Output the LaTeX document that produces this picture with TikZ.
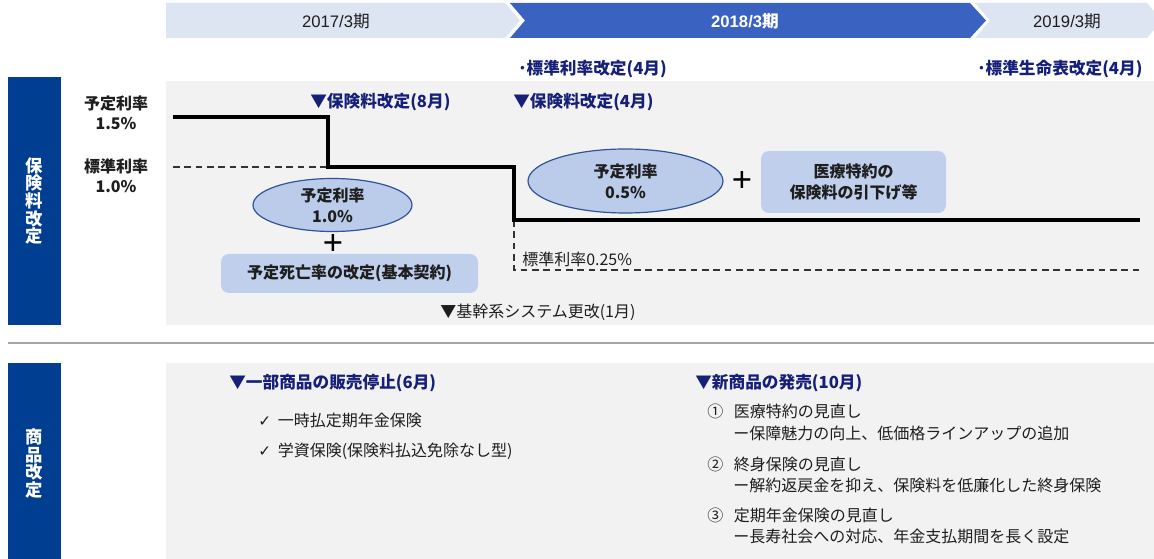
\documentclass[tikz,border=0pt]{standalone}
\usepackage{fontspec}
\setmainfont{Noto Sans CJK JP}
\newfontfamily\djv{DejaVu Sans}
\newfontfamily\arl{Liberation Sans}
\usetikzlibrary{shapes.geometric}
\definecolor{navybar}{RGB}{0,62,146}
\definecolor{bannerblue}{RGB}{58,98,192}
\definecolor{bannerlight}{RGB}{221,228,242}
\definecolor{panelgray}{RGB}{242,242,242}
\definecolor{ellfill}{RGB}{187,203,234}
\definecolor{ellborder}{RGB}{47,85,151}
\definecolor{rectfill}{RGB}{191,207,236}
\definecolor{navytext}{RGB}{22,32,120}
\definecolor{txt}{RGB}{30,30,30}
\tikzset{
  bannertxt/.style={font=\fontsize{12.5}{15}\selectfont, text=txt},
  navyhead/.style={font=\fontsize{12.5}{15}\selectfont\bfseries, text=navytext, anchor=west, inner sep=0pt},
  plain/.style={font=\fontsize{12}{15}\selectfont, text=txt, anchor=west, inner sep=0pt},
  sidebar/.style={fill=navybar, draw=none},
  sidetxt/.style={font=\fontsize{13}{13.2}\selectfont\bfseries, text=white, align=center, inner sep=0pt},
  ratelbl/.style={font=\fontsize{12}{15}\selectfont\bfseries, text=txt, align=center, inner sep=0pt},
  bubble/.style={ellipse, fill=ellfill, draw=ellborder, line width=0.9pt, font=\fontsize{12}{15.5}\selectfont\bfseries, text=txt, align=center, inner sep=0pt},
  pill/.style={rounded corners=6pt, fill=rectfill, draw=none, font=\fontsize{12}{16}\selectfont\bfseries, text=txt, align=center, inner sep=0pt},
  stair/.style={line width=3.2pt, black},
  dashln/.style={dash pattern=on 5pt off 3.5pt, line width=0.9pt, black!80},
  plus/.style={font=\fontsize{26}{26}\selectfont\arl, text=black, inner sep=0pt}
}
\begin{document}
\begin{tikzpicture}[x=0.75pt,y=-0.75pt]
\useasboundingbox (0,0) rectangle (1154,559);
\fill[white] (0,0) rectangle (1154,559);
% banner
\fill[bannerlight] (166,3) -- (505,3) -- (520,20.5) -- (505,38) -- (166,38) -- cycle;
\fill[bannerblue] (510,3) -- (970,3) -- (986,20.5) -- (970,38) -- (510,38) -- (525,20.5) -- cycle;
\fill[bannerlight] (975,3) -- (1147,3) -- (1162,20.5) -- (1147,38) -- (975,38) -- (990,20.5) -- cycle;
\node[bannertxt] (b1) at (336,21) {{\arl 2017/3}期};
\node[bannertxt, text=white, font=\fontsize{12.5}{15}\selectfont\bfseries] (b2) at (745,21) {{\arl\bfseries 2018/3}期};
\node[bannertxt] (b3) at (1067,21) {{\arl 2019/3}期};
% section 1
\fill[panelgray] (166,81) rectangle (1154,325);
\fill[sidebar] (8,77) rectangle (61,325);
\node[sidetxt] (s1) at (34.5,201) {保\\険\\料\\改\\定};
\node[ratelbl] (r15) at (116,113) {予定利率\\1.5\%};
\node[ratelbl] (r10) at (116,176) {標準利率\\1.0\%};
\node[navyhead] (h8) at (310,102) {▼保険料改定(8月)};
\node[navyhead] (h4) at (513,102) {▼保険料改定(4月)};
\node[navyhead] (hstd) at (518,69) {･標準利率改定(4月)};
\node[navyhead] (hlife) at (977,69) {･標準生命表改定(4月)};
\node[plain] (sys) at (440,312) {▼基幹系システム更改(1月)};
% staircase
\coordinate (p0) at (173,117);
\coordinate (p1) at (328,117);
\coordinate (p2) at (328,167);
\coordinate (p3) at (514,167);
\coordinate (p4) at (514,220);
\coordinate (p5) at (1140,220);
\coordinate (d0) at (173,167);
\coordinate (d1) at (514,270);
\coordinate (d2) at (1140,270);
\draw[dashln] (d0) -- (p2);
\draw[dashln] (p4) -- (d1) -- (d2);
\draw[stair] (p0) -- (p1) -- (p2) -- (p3) -- (p4) -- (p5);
\node[plain] (std025) at (522,259) {標準利率0.25\%};
% bubbles
\node[bubble, minimum width=159pt*0.75, minimum height=53pt*0.75] (e1) at (332.5,205) {予定利率\\1.0\%};
\node[plus] (pl1) at (333,244) {+};
\node[pill, minimum width=257pt*0.75, minimum height=39pt*0.75] (m1) at (349.5,273.5) {予定死亡率の改定(基本契約)};
\node[bubble, minimum width=195pt*0.75, minimum height=64pt*0.75] (e2) at (625.5,181) {予定利率\\0.5\%};
\node[plus] (pl2) at (742,181) {+};
\node[pill, minimum width=185pt*0.75, minimum height=62pt*0.75] (m2) at (853.5,182) {医療特約の\\保険料の引下げ等};
% divider
\draw[line width=1.5pt, black!35] (8,343) -- (1154,343);
% section 2
\fill[panelgray] (166,363) rectangle (1154,559);
\fill[sidebar] (8,363) rectangle (61,559);
\node[sidetxt] (s2) at (34.5,463.5) {商\\品\\改\\定};
\node[navyhead] (stop) at (229,383) {▼一部商品の販売停止(6月)};
\node[plain] (c1) at (258,420) {{\djv\fontsize{11.5}{12}\selectfont ✓}\hspace{5pt}一時払定期年金保険};
\node[plain] (c2) at (258,451) {{\djv\fontsize{11.5}{12}\selectfont ✓}\hspace{5pt}学資保険(保険料払込免除なし型)};
\node[navyhead] (newp) at (695,383) {▼新商品の発売(10月)};
\node[plain] (n1) at (707,411) {①\hspace{8pt}医療特約の見直し};
\node[plain] (n1b) at (733,433) {ー保障魅力の向上、低価格ラインアップの追加};
\node[plain] (n2) at (707,464) {②\hspace{8pt}終身保険の見直し};
\node[plain] (n2b) at (733,485) {ー解約返戻金を抑え、保険料を低廉化した終身保険};
\node[plain] (n3) at (707,515) {③\hspace{8pt}定期年金保険の見直し};
\node[plain] (n3b) at (733,536) {ー長寿社会への対応、年金支払期間を長く設定};
\end{tikzpicture}
\end{document}
